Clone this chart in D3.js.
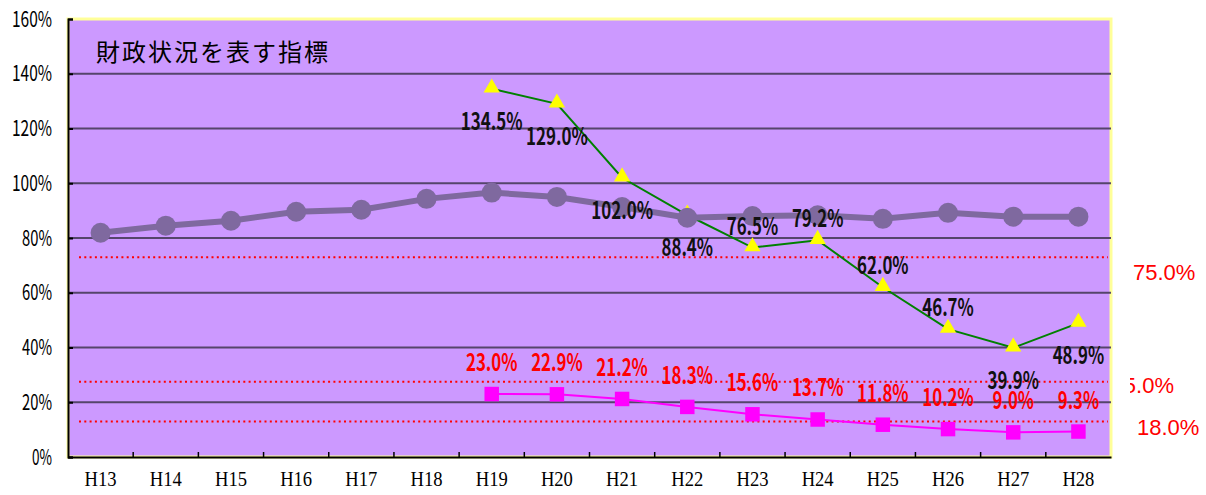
<!DOCTYPE html>
<html lang="ja">
<head>
<meta charset="UTF-8">
<title>財政状況を表す指標</title>
<script src="https://d3js.org/d3.v7.min.js"></script>
<style>
  body { margin: 0; background: #fff; }
  svg { display: block; }
  .ylab { font-family: "Noto Sans CJK JP", sans-serif; font-size: 22px; fill: #000; }
  .xlab { font-family: "Liberation Serif", serif; font-size: 22px; fill: #000; }
  .dlab { font-family: "Noto Sans CJK JP", sans-serif; font-size: 24px; font-weight: bold; }
  .rlab { font-family: "Liberation Sans", Arial, sans-serif; font-size: 22px; fill: #ff0000; }
</style>
</head>
<body>
<script>
// data
const categories = ["H13","H14","H15","H16","H17","H18","H19","H20","H21","H22","H23","H24","H25","H26","H27","H28"];
const ratioValues = [81.9, 84.5, 86.3, 89.6, 90.3, 94.3, 96.6, 95.0, 91.3, 87.4, 88.0, 88.3, 87.0, 89.2, 87.8, 87.8];
const burdenValues = [null, null, null, null, null, null, 134.5, 129.0, 102.0, 88.4, 76.5, 79.2, 62.0, 46.7, 39.9, 48.9];
const burdenLabelSide = ["", "", "", "", "", "", "below", "below", "below", "below", "above", "above", "above", "above", "below", "below"];
const debtValues = [null, null, null, null, null, null, 23.0, 22.9, 21.2, 18.3, 15.6, 13.7, 11.8, 10.2, 9.0, 9.3];
const refValues = [73, 27.5, 13];
const refLabels = ["75.0%", "25.0%", "18.0%"];
const yTicks = [0, 20, 40, 60, 80, 100, 120, 140, 160];

// layout
const width = 1206, height = 495;
const margin = { top: 19, right: 95, bottom: 38, left: 68 };
const refLabelDx = [22, 63, 26];       // offset of right labels from plot edge
const refLabelDy = [23, 11, 14];
const refLabelAnchor = ["start", "end", "start"];

const svg = d3.select("body").append("svg")
  .attr("width", width).attr("height", height);

const x = d3.scaleBand().domain(categories)
  .range([margin.left, width - margin.right]);
const y = d3.scaleLinear().domain([0, 160])
  .range([height - margin.bottom, margin.top]);
const cx = c => x(c) + x.bandwidth() / 2;

// plot background
svg.append("rect")
  .attr("x", margin.left).attr("y", margin.top)
  .attr("width", width - margin.left - margin.right)
  .attr("height", height - margin.top - margin.bottom)
  .attr("fill", "#cc99ff")
  .attr("stroke", "#ffff99").attr("stroke-width", 3);

// gridlines
svg.append("g").selectAll("line")
  .data(yTicks.filter(d => d > 0 && d < 160))
  .join("line")
  .attr("x1", margin.left).attr("x2", width - margin.right)
  .attr("y1", d => y(d)).attr("y2", d => y(d))
  .attr("stroke", "#55456b").attr("stroke-width", 2);

// title
svg.append("text")
  .attr("x", margin.left + 28).attr("y", 61)
  .attr("font-family", "'Noto Sans CJK JP', sans-serif")
  .attr("font-size", 24).attr("letter-spacing", 2)
  .attr("fill", "#000")
  .text("財政状況を表す指標");

// reference lines (dotted red)
svg.append("g").selectAll("line")
  .data(refValues)
  .join("line")
  .attr("x1", margin.left + 11).attr("x2", width - margin.right - 3)
  .attr("y1", d => y(d)).attr("y2", d => y(d))
  .attr("stroke", "#ff0000").attr("stroke-width", 2)
  .attr("stroke-dasharray", "2,3.3");

// axes
const yAxis = svg.append("g")
  .attr("transform", `translate(${margin.left},0)`)
  .call(d3.axisLeft(y).tickValues(yTicks).tickSize(-5).tickPadding(16).tickFormat(d => d + "%"));
yAxis.select(".domain").attr("stroke", "#000").attr("stroke-width", 2);
yAxis.selectAll(".tick line").attr("stroke", "#000").attr("stroke-width", 2);
yAxis.selectAll("text").attr("class", "ylab")
  .attr("font-family", null).attr("font-size", null)
  .attr("textLength", function() { return this.textContent.length * 10; })
  .attr("lengthAdjust", "spacingAndGlyphs");

const xAxis = svg.append("g")
  .attr("transform", `translate(0,${height - margin.bottom})`)
  .call(d3.axisBottom(x).tickSize(0).tickPadding(13));
xAxis.select(".domain").attr("stroke", "#000").attr("stroke-width", 2);
xAxis.selectAll("text").attr("class", "xlab")
  .attr("font-family", null).attr("font-size", null)
  .attr("textLength", 32).attr("lengthAdjust", "spacingAndGlyphs");
xAxis.selectAll(".boundary")
  .data(categories.slice(1))
  .join("line")
  .attr("x1", d => x(d)).attr("x2", d => x(d))
  .attr("y1", 0).attr("y2", -5)
  .attr("stroke", "#000").attr("stroke-width", 1.5);

// burden series (green line, yellow triangles)
const burden = categories.map((c, i) => ({ c, v: burdenValues[i], side: burdenLabelSide[i] })).filter(d => d.v != null);
svg.append("path")
  .datum(burden)
  .attr("fill", "none").attr("stroke", "#008000").attr("stroke-width", 2)
  .attr("d", d3.line().x(d => cx(d.c)).y(d => y(d.v)));
svg.append("g").selectAll("path")
  .data(burden)
  .join("path")
  .attr("transform", d => `translate(${cx(d.c)},${y(d.v) - 1})`)
  .attr("d", d3.symbol(d3.symbolTriangle, 115))
  .attr("fill", "#ffff00");

// ratio series (thick purple-grey line with circles)
const ratio = categories.map((c, i) => ({ c, v: ratioValues[i] }));
svg.append("path")
  .datum(ratio)
  .attr("fill", "none").attr("stroke", "#7f699f").attr("stroke-width", 6)
  .attr("d", d3.line().x(d => cx(d.c)).y(d => y(d.v)));
svg.append("g").selectAll("circle")
  .data(ratio)
  .join("circle")
  .attr("cx", d => cx(d.c)).attr("cy", d => y(d.v))
  .attr("r", 10).attr("fill", "#7f699f");

// debt series (magenta line, squares)
const debt = categories.map((c, i) => ({ c, v: debtValues[i] })).filter(d => d.v != null);
svg.append("path")
  .datum(debt)
  .attr("fill", "none").attr("stroke", "#ff00ff").attr("stroke-width", 2)
  .attr("d", d3.line().x(d => cx(d.c)).y(d => y(d.v)));
svg.append("g").selectAll("path")
  .data(debt)
  .join("path")
  .attr("transform", d => `translate(${cx(d.c)},${y(d.v)})`)
  .attr("d", d3.symbol(d3.symbolSquare, 210))
  .attr("fill", "#ff00ff");

// data labels
const fmt = v => v.toFixed(1) + "%";
svg.append("g").selectAll("text")
  .data(burden)
  .join("text")
  .attr("class", "dlab")
  .attr("x", d => cx(d.c))
  .attr("y", d => y(d.v) + (d.side === "below" ? 41 : -13))
  .attr("text-anchor", "middle")
  .attr("fill", "#111")
  .attr("textLength", d => fmt(d.v).length * 10.3)
  .attr("lengthAdjust", "spacingAndGlyphs")
  .text(d => fmt(d.v));

svg.append("g").selectAll("text")
  .data(debt)
  .join("text")
  .attr("class", "dlab")
  .attr("x", d => cx(d.c))
  .attr("y", d => y(d.v) - 23)
  .attr("text-anchor", "middle")
  .attr("fill", "#ff0000")
  .attr("textLength", d => fmt(d.v).length * 10.3)
  .attr("lengthAdjust", "spacingAndGlyphs")
  .text(d => fmt(d.v));

// reference labels at the right, the middle one partly hidden by the frame
svg.append("clipPath").attr("id", "rclip")
  .append("rect")
  .attr("x", width - margin.right + 19).attr("y", 0)
  .attr("width", margin.right).attr("height", height);
svg.append("g").attr("clip-path", "url(#rclip)")
  .selectAll("text")
  .data(refValues)
  .join("text")
  .attr("class", "rlab")
  .attr("x", (d, i) => width - margin.right + refLabelDx[i])
  .attr("y", (d, i) => y(d) + refLabelDy[i])
  .attr("text-anchor", (d, i) => refLabelAnchor[i])
  .text((d, i) => refLabels[i]);
</script>
</body>
</html>
